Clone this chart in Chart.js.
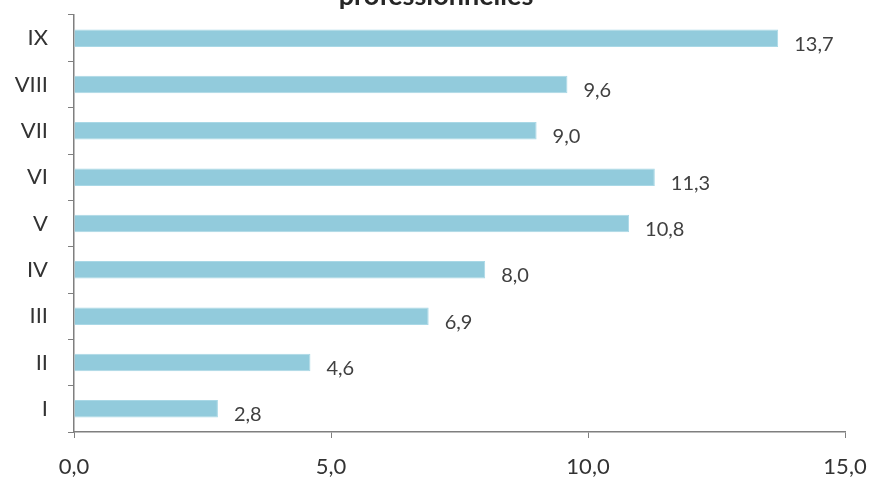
<!DOCTYPE html>
<html><head><meta charset="utf-8">
<script src="https://cdn.jsdelivr.net/npm/chart.js@4/dist/chart.umd.min.js"></script>
<style>html,body{margin:0;padding:0;background:#fff;}#wrap{width:869px;height:478px;position:relative;}</style>
</head><body>
<div id="wrap"><canvas id="c" width="869" height="478"></canvas></div>
<script>
const categories = ["IX","VIII","VII","VI","V","IV","III","II","I"];
const values = [13.7, 9.6, 9.0, 11.3, 10.8, 8.0, 6.9, 4.6, 2.8];
const xTicks = [0, 5, 10, 15];
const titleText = "professionnelles";
const fmt = v => v.toFixed(1).replace('.', ',');
const FONT = 'Lato, "Open Sans", sans-serif';

const labelPlugin = {
  id: 'vals',
  afterDatasetsDraw(chart) {
    const ctx = chart.ctx;
    const meta = chart.getDatasetMeta(0);
    ctx.save();
    ctx.font = '20px ' + FONT;
    ctx.fillStyle = '#404040';
    ctx.textAlign = 'left';
    ctx.textBaseline = 'middle';
    meta.data.forEach((bar, i) => {
      ctx.fillText(fmt(values[i]), bar.x + 16, bar.y + 6);
    });
    ctx.restore();
  },
  afterDraw(chart) {
    const ctx = chart.ctx;
    ctx.save();
    ctx.font = 'bold 27px ' + FONT;
    ctx.fillStyle = '#262626';
    ctx.textAlign = 'center';
    ctx.textBaseline = 'alphabetic';
    ctx.fillText(titleText, 436, 5);
    ctx.restore();
  }
};

new Chart(document.getElementById('c'), {
  type: 'bar',
  data: {
    labels: categories,
    datasets: [{
      data: values,
      backgroundColor: '#92CBDC',
      borderColor: '#A9D8E6',
      borderWidth: 1,
      barPercentage: 0.9,
      categoryPercentage: 0.42
    }]
  },
  options: {
    indexAxis: 'y',
    responsive: false,
    animation: false,
    layout: { padding: { top: 15, right: 24, left: 0, bottom: 0 } },
    plugins: { legend: { display: false }, tooltip: { enabled: false }, title: { display: false } },
    scales: {
      x: {
        min: 0, max: 15,
        afterBuildTicks: s => { s.ticks = xTicks.map(v => ({ value: v })); },
        afterFit: s => { s.height = 46; s.paddingLeft = 0; s.paddingRight = 0; },
        ticks: { callback: v => fmt(v), color: '#333', font: { size: 22, family: FONT }, padding: 16 },
        grid: { drawOnChartArea: false, drawTicks: true, tickLength: 6, color: '#7f7f7f' },
        border: { display: true, color: '#7f7f7f', width: 1.5 }
      },
      y: {
        afterFit: s => { s.width = 74; s.paddingTop = 0; s.paddingBottom = 0; },
        ticks: { color: '#333', font: { size: 22, family: FONT }, padding: 20 },
        grid: { drawOnChartArea: false, drawTicks: true, tickLength: 6, color: '#7f7f7f', offset: true },
        border: { display: true, color: '#7f7f7f', width: 1.5 }
      }
    }
  },
  plugins: [labelPlugin]
});
</script>
</body></html>
